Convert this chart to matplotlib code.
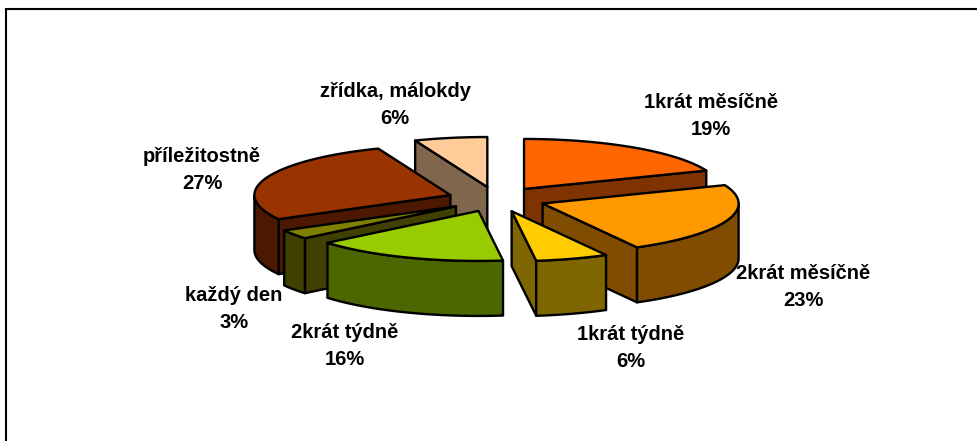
import matplotlib
matplotlib.use('Agg')
import matplotlib.pyplot as plt
from matplotlib.patches import Polygon
import numpy as np

plt.rcParams['font.family'] = ['Liberation Sans', 'DejaVu Sans']

# data, clockwise from 12 o'clock
labels = ['1krát měsíčně', '2krát měsíčně', '1krát týdně', '2krát týdně',
          'každý den', 'příležitostně', 'zřídka, málokdy']
values = [19, 23, 6, 16, 3, 27, 6]

top_colors = ['#FF6600', '#FF9900', '#FFCC00', '#99CC00', '#808000', '#993300', '#FFCC99']
side_colors = ['#7F3300', '#7F4C00', '#7F6600', '#4C6600', '#404000', '#4C1900', '#80664C']

# label centres in pixels
label_pos = [(711, 116), (803, 287), (631, 348), (345, 346), (234, 309), (202, 170), (395, 105)]

# pie geometry in pixels
cx, cy = 496.5, 199.3
rx, ry = 196, 50
depth = 55
explode = 0.25

# back to front
draw_order = [6, 5, 0, 4, 1, 3, 2]


def pt(t, x0, y0):
    return (x0 + rx * np.sin(t), y0 - ry * np.cos(t))


def arc(t0, t1, x0, y0):
    ts = np.linspace(t0, t1, 80)
    return [pt(t, x0, y0) for t in ts]


def face(ax, pts, color):
    ax.add_patch(Polygon(pts, closed=True, facecolor=color, edgecolor='black',
                         linewidth=1.7, joinstyle='round'))


def down(pts):
    return [(x, y + depth) for x, y in pts]


def draw_slice(ax, i, t0, t1):
    mid = (t0 + t1) / 2
    x0 = cx + explode * rx * np.sin(mid)
    y0 = cy - explode * ry * np.cos(mid)
    apex = [(x0, y0)]

    # flat sides, only the ones turned towards the viewer
    if np.sin(t0) < -1e-6:
        edge = apex + [pt(t0, x0, y0)]
        face(ax, edge + down(edge)[::-1], side_colors[i])
    if np.sin(t1) > 1e-6:
        edge = apex + [pt(t1, x0, y0)]
        face(ax, edge + down(edge)[::-1], side_colors[i])

    # outer rim, front half only
    a = max(t0, np.pi / 2)
    b = min(t1, 3 * np.pi / 2)
    if a < b:
        rim = arc(a, b, x0, y0)
        face(ax, rim + down(rim)[::-1], side_colors[i])

    face(ax, apex + arc(t0, t1, x0, y0), top_colors[i])


fig = plt.figure(figsize=(9.78, 4.41), dpi=100)
ax = fig.add_axes([0, 0, 1, 1])
ax.set_xlim(0, 978)
ax.set_ylim(441, 0)
ax.axis('off')

# chart frame
ax.plot([6, 6, 978], [441, 9, 9], color='black', linewidth=1.5, solid_joinstyle='miter')

edges = np.cumsum([0] + values) / sum(values) * 2 * np.pi
for i in draw_order:
    draw_slice(ax, i, edges[i], edges[i + 1])

for name, v, (x, y) in zip(labels, values, label_pos):
    ax.text(x, y, f'{name}\n{v}%', ha='center', va='center', fontsize=14.5,
            fontweight='bold', color='black', linespacing=1.58)

fig.savefig('out.png', dpi=100)
